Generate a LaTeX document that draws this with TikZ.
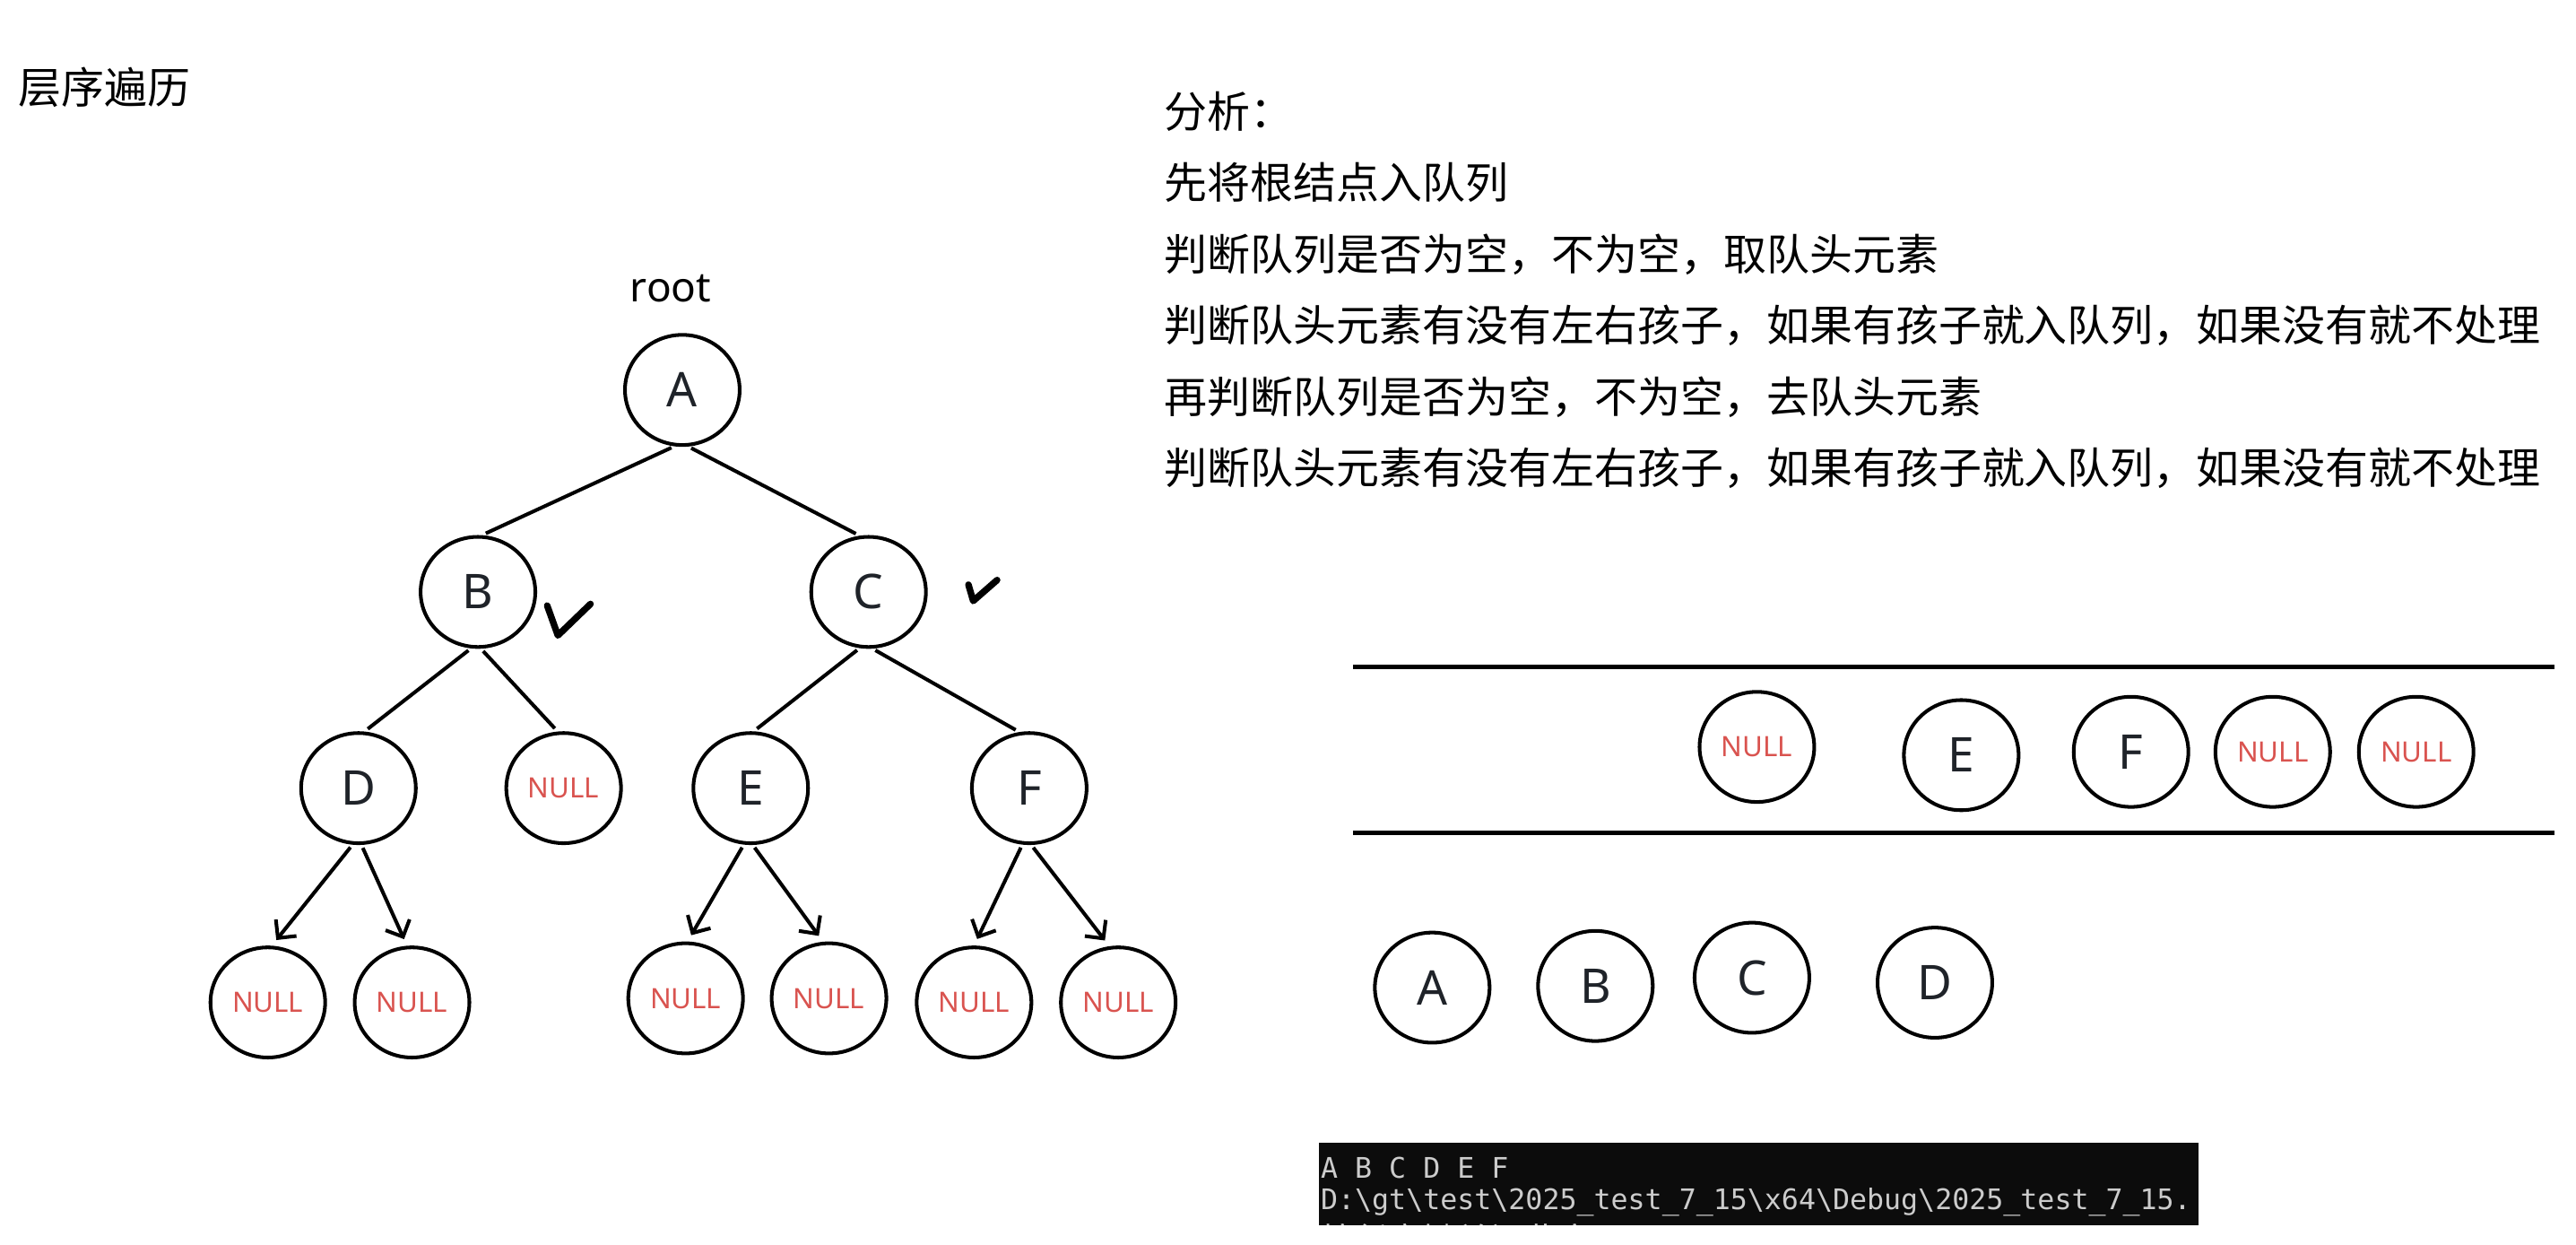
\documentclass[tikz,border=0pt]{standalone}
\usepackage{fontspec}
\setmainfont{Noto Sans}
\newfontfamily\cjk{Noto Sans CJK SC}
\newfontfamily\mono{DejaVu Sans Mono}
\usetikzlibrary{arrows.meta,shapes.geometric}

\definecolor{letter}{HTML}{1F2329}
\definecolor{nullred}{HTML}{D9534F}
\definecolor{termbg}{HTML}{0C0C0C}
\definecolor{termfg}{HTML}{CCCCCC}

\tikzset{
  tnode/.style={ellipse, draw, line width=1.1pt, minimum width=34.8pt, minimum height=33.4pt,
    inner sep=0pt, text=letter, font=\fontsize{14.5pt}{16pt}\selectfont},
  nullnode/.style={tnode, text=nullred, font=\fontsize{8.5pt}{10pt}\selectfont},
  link/.style={line width=1.1pt, shorten <=1pt, shorten >=1.3pt},
  arrowlink/.style={line width=1.1pt, shorten <=1pt, shorten >=2.2pt,
    -{Straight Barb[length=4pt,width=8pt]}},
  cjktext/.style={anchor=base west, inner sep=0pt, font=\cjk\fontsize{13.05pt}{15pt}\selectfont},
  termtext/.style={anchor=base west, inner sep=0pt, text=termfg, font=\mono\fontsize{8.6pt}{10pt}\selectfont},
  tick/.style={line width=2pt, line cap=round, line join=round}
}

\begin{document}
\begin{tikzpicture}[x=0.5pt, y=-0.5pt]
\useasboundingbox (0,0) rectangle (1563,755.1);

% Title
\node[cjktext] (title) at (11,63) {层序遍历};
\node[anchor=base west, inner sep=0pt, font=\fontsize{12.5pt}{14pt}\selectfont] (root) at (382,183.2) {root};

% Tree
\node[tnode] (A) at (414,236.5) {A};
\node[tnode] (B) at (290,359) {B};
\node[tnode] (C) at (527,359) {C};
\node[tnode] (D) at (217.5,478) {D};
\node[nullnode] (nB) at (342,478) {NULL};
\node[tnode] (E) at (455.5,478) {E};
\node[tnode] (F) at (624.5,478) {F};
\node[nullnode] (nD1) at (162.5,608) {NULL};
\node[nullnode] (nD2) at (250,608) {NULL};
\node[nullnode] (nE1) at (416,605.5) {NULL};
\node[nullnode] (nE2) at (503,605.5) {NULL};
\node[nullnode] (nF1) at (591,608) {NULL};
\node[nullnode] (nF2) at (678.5,608) {NULL};

% Edges
\draw[link] (A.262) -- (B.86);
\draw[link] (A.276) -- (C.99);
\draw[link] (B.263) -- (D.84);
\draw[link] (B.273) -- (nB.96);
\draw[link] (C.261) -- (E.87);
\draw[link] (C.274) -- (F.100);
\draw[arrowlink] (D.264) -- (nD1.86);
\draw[arrowlink] (D.273) -- (nD2.95);
\draw[arrowlink] (E.263) -- (nE1.88);
\draw[arrowlink] (E.272) -- (nE2.96);
\draw[arrowlink] (F.263) -- (nF1.90);
\draw[arrowlink] (F.272) -- (nF2.99);

% Ticks
\draw[tick] (332,367.3) -- (338.5,385.4) -- (358.3,366.3);
\draw[tick] (587.6,354.6) -- (590.5,364.5) -- (605,351.8);

% Analysis
\node[cjktext] (t0) at (706,77.5) {分析：};
\node[cjktext] (t1) at (706,120.5) {先将根结点入队列};
\node[cjktext] (t2) at (706,164) {判断队列是否为空，不为空，取队头元素};
\node[cjktext] (t3) at (706,207) {判断队头元素有没有左右孩子，如果有孩子就入队列，如果没有就不处理};
\node[cjktext] (t4) at (706,250.5) {再判断队列是否为空，不为空，去队头元素};
\node[cjktext] (t5) at (706,293.5) {判断队头元素有没有左右孩子，如果有孩子就入队列，如果没有就不处理};

% Queue
\draw[line width=1.3pt] (821,404.5) -- (1550,404.5);
\draw[line width=1.3pt] (821,505) -- (1550,505);
\node[nullnode] (qN1) at (1066,453) {NULL};
\node[tnode] (qE) at (1190,458) {E};
\node[tnode] (qF) at (1293,456) {F};
\node[nullnode] (qN2) at (1379,456) {NULL};
\node[nullnode] (qN3) at (1466,456) {NULL};

% Output
\node[tnode] (oA) at (869,599) {A};
\node[tnode] (oB) at (968,598) {B};
\node[tnode] (oC) at (1063,593) {C};
\node[tnode] (oD) at (1174,596) {D};

% Console
\fill[termbg] (800,693) rectangle (1334,743);
\node[termtext] (out1) at (801,714.5) {A B C D E F};
\node[termtext] (out2) at (801,733.6) {D:\textbackslash gt\textbackslash test\textbackslash 2025\_test\_7\_15\textbackslash x64\textbackslash Debug\textbackslash 2025\_test\_7\_15.};
\begin{scope}
\clip (800,693) rectangle (1334,743);
\node[anchor=base west, inner sep=0pt, text=termfg, font=\cjk\fontsize{10.3pt}{12pt}\selectfont] (out3) at (801,759.5) {按任意键关闭此窗口. . .};
\end{scope}
\end{tikzpicture}
\end{document}
